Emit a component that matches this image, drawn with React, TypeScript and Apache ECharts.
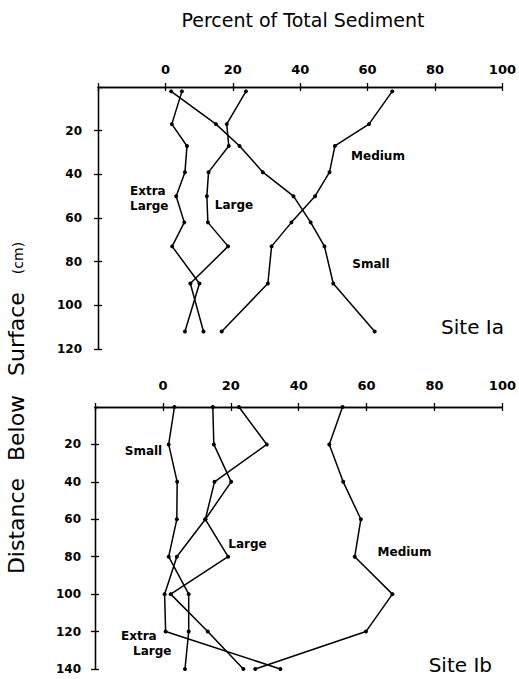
import React, { useEffect, useRef } from "react";
import * as echarts from "echarts";

// ---- Site Ia (top panel) ----
const depthsA = [2, 17, 27, 39, 50, 62, 73, 90, 112];
const smallA = [1.7, 15.0, 22.0, 28.9, 38.0, 43.1, 47.2, 49.8, 62.1];
const mediumA = [67.3, 60.4, 50.3, 48.7, 44.4, 37.4, 31.5, 30.4, 16.7];
const largeA = [23.9, 18.2, 18.8, 12.8, 12.3, 12.6, 18.6, 7.4, 11.3];
const xlargeA = [4.9, 1.9, 6.4, 5.8, 3.2, 5.6, 2.0, 10.1, 5.8];

// ---- Site Ib (bottom panel) ----
const depthsB = [0, 20, 40, 60, 80, 100, 120, 140];
const smallB = [3.4, 1.7, 4.2, 4.1, 1.7, 7.6, 7.6, 6.5];
const largeB = [14.7, 15.0, 20.1, 12.5, 19.2, 2.3, 13.2, 23.7];
const xlargeB = [22.4, 30.6, 15.2, 12.5, 4.1, 0.5, 0.8, 34.6];
const mediumB = [52.9, 49.0, 53.1, 58.3, 56.5, 67.6, 59.8, 27.2];

const xTicks = { min: -20, max: 100, interval: 20 };
const yMaxA = 120;
const yMaxB = 140;

const FONT = "DejaVu Sans";

export default function App() {
  const ref = useRef<HTMLDivElement>(null);

  useEffect(() => {
    if (!ref.current) return;
    const chart = echarts.init(ref.current, null, { renderer: "svg" });

    const line = (vals: number[], depths: number[], idx: number, name: string) => ({
      type: "line",
      name,
      xAxisIndex: idx * 2,
      yAxisIndex: idx * 2,
      data: vals.map((v, i) => [v, depths[i]]),
      symbol: "circle",
      symbolSize: 4,
      clip: false,
      lineStyle: { color: "#000", width: 1.5 },
      itemStyle: { color: "#000" },
      silent: true,
    });

    const tickStyle = { color: "#000", width: 1.3 };

    const xPair = (grid: number, margin: number) => [
      {
        gridIndex: grid,
        type: "value",
        position: "top",
        ...xTicks,
        axisLine: { show: true, onZero: false, lineStyle: tickStyle },
        axisTick: { show: true, inside: false, length: 4, lineStyle: tickStyle },
        axisLabel: {
          margin,
          color: "#000",
          fontFamily: FONT,
          fontWeight: "bold",
          fontSize: 13,
          formatter: (v: number) => (v < 0 ? "" : String(v)),
        },
        splitLine: { show: false },
      },
      {
        gridIndex: grid,
        type: "value",
        position: "top",
        ...xTicks,
        axisLine: { show: true, onZero: false, lineStyle: tickStyle },
        axisTick: { show: true, inside: true, length: 4, lineStyle: tickStyle },
        axisLabel: { show: false },
        splitLine: { show: false },
      },
    ];

    const yPair = (grid: number, max: number, margin: number) => [
      {
        gridIndex: grid,
        type: "value",
        position: "left",
        inverse: true,
        min: 0,
        max,
        interval: 20,
        axisLine: { show: true, onZero: false, lineStyle: tickStyle },
        axisTick: { show: true, inside: false, length: 4, lineStyle: tickStyle },
        axisLabel: {
          margin,
          color: "#000",
          fontFamily: FONT,
          fontWeight: "bold",
          fontSize: 12,
          showMinLabel: false,
        },
        splitLine: { show: false },
      },
      {
        gridIndex: grid,
        type: "value",
        position: "left",
        inverse: true,
        min: 0,
        max,
        interval: 20,
        axisLine: { show: true, onZero: false, lineStyle: tickStyle },
        axisTick: { show: true, inside: true, length: 4, lineStyle: tickStyle },
        axisLabel: { show: false },
        splitLine: { show: false },
      },
    ];

    const lbl = (text: string, x: number, y: number, align = "center") => ({
      type: "text",
      x,
      y,
      silent: true,
      style: {
        text,
        fill: "#000",
        font: `bold 12px '${FONT}'`,
        textAlign: align,
        textVerticalAlign: "middle",
      },
    });

    const big = (text: string, x: number, y: number, size: number, align = "center", rot = 0) => ({
      type: "text",
      x,
      y,
      rotation: rot,
      silent: true,
      style: {
        text,
        fill: "#000",
        font: `${size}px '${FONT}'`,
        textAlign: align,
        textVerticalAlign: "middle",
      },
    });

    const option = {
      animation: false,
      backgroundColor: "#fff",
      grid: [
        { left: 98, top: 87, width: 406, height: 262, containLabel: false },
        { left: 95, top: 407, width: 408, height: 262, containLabel: false },
      ],
      xAxis: [...xPair(0, 11), ...xPair(1, 15)],
      yAxis: [...yPair(0, yMaxA, 16), ...yPair(1, yMaxB, 14)],
      series: [
        line(smallA, depthsA, 0, "Small"),
        line(mediumA, depthsA, 0, "Medium"),
        line(largeA, depthsA, 0, "Large"),
        line(xlargeA, depthsA, 0, "Extra Large"),
        line(smallB, depthsB, 1, "Small"),
        line(largeB, depthsB, 1, "Large"),
        line(xlargeB, depthsB, 1, "Extra Large"),
        line(mediumB, depthsB, 1, "Medium"),
      ],
      graphic: [
        big("Percent of Total Sediment", 303, 20, 19),
        big("Distance", 16, 526, 22, "center", Math.PI / 2),
        big("Below", 16, 428, 22, "center", Math.PI / 2),
        big("Surface", 16, 334, 22, "center", Math.PI / 2),
        big("(cm)", 18, 258, 14, "center", Math.PI / 2),
        big("Site Ia", 504, 327, 20, "right"),
        big("Site Ib", 492, 665, 20, "right"),
        // Site Ia labels
        lbl("Medium", 378, 156),
        lbl("Small", 371, 264),
        lbl("Extra", 130, 191, "left"),
        lbl("Large", 130, 206, "left"),
        lbl("Large", 234, 205),
        // Site Ib labels
        lbl("Small", 143.5, 451),
        lbl("Large", 247.5, 544),
        lbl("Medium", 404.5, 552),
        lbl("Extra", 121, 636, "left"),
        lbl("Large", 133, 651, "left"),
      ],
    };

    chart.setOption(option as any);
    return () => chart.dispose();
  }, []);

  return (
    <div
      ref={ref}
      style={{ position: "fixed", left: 0, top: 0, width: 519, height: 679, background: "#fff" }}
    />
  );
}
